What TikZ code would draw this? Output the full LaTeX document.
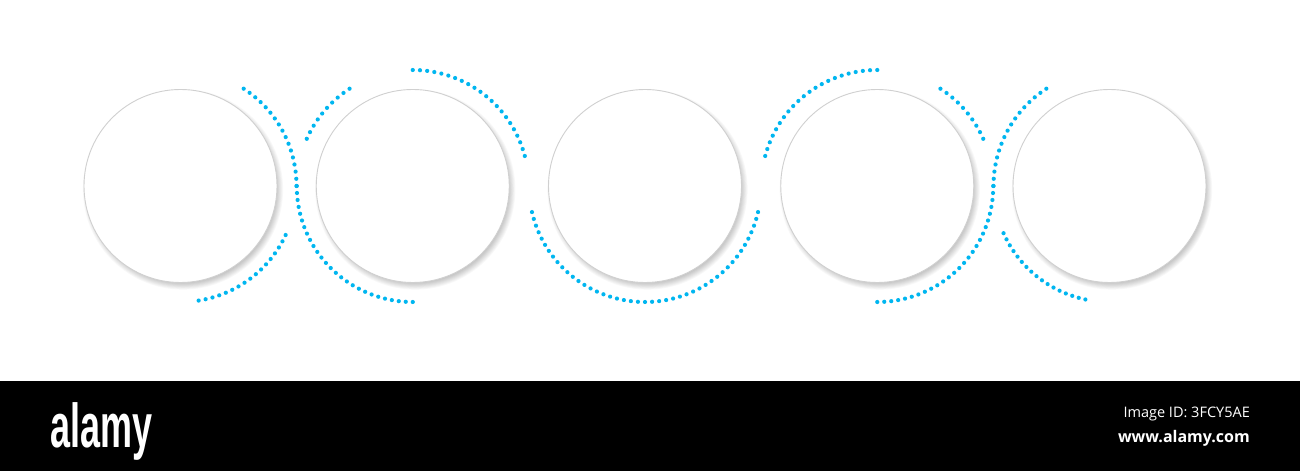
\documentclass[tikz,border=0pt]{standalone}
\usepackage{fontspec}
\setmainfont{Open Sans}
\newfontfamily\logofont{Liberation Sans}
\definecolor{dotblue}{RGB}{0,182,240}
\definecolor{ringgray}{RGB}{208,208,208}
% dotted arc: centre, start angle, end angle, number of intervals
\newcommand\mydotarc[4]{%
  \foreach \i in {0,...,#4}{%
    \pgfmathsetmacro\aa{#2+(#3-(#2))*\i/#4}%
    \fill[dotdisc] ($(#1)+(\aa:116)$) circle[radius=2.1];%
  }%
}
\usetikzlibrary{calc}
\begin{document}
\begin{tikzpicture}[x=1pt,y=1pt,
  ring/.style={circle,draw=ringgray,line width=0.9pt,fill=white,minimum size=193pt,inner sep=0pt},
  shadowdisc/.style={fill=black,opacity=0.028},
  dotdisc/.style={fill=dotblue}]
\useasboundingbox (0,0) rectangle (1300,471);
\fill[white] (0,0) rectangle (1300,471);
% centres
\coordinate (p1) at (180.5,285);
\coordinate (p2) at (412.75,285);
\coordinate (p3) at (645,285);
\coordinate (p4) at (877.25,285);
\coordinate (p5) at (1109.5,285);
% soft shadows
\foreach \p in {p1,p2,p3,p4,p5}{
  \foreach \k in {1,...,9}{
    \fill[shadowdisc] ([shift={(2.5,-3.5)}]\p) circle[radius=101-\k*0.9];
  }
}
% circles
\node[ring] (c1) at (p1) {};
\node[ring] (c2) at (p2) {};
\node[ring] (c3) at (p3) {};
\node[ring] (c4) at (p4) {};
\node[ring] (c5) at (p5) {};
% dotted arcs
\mydotarc{c1.center}{-25}{-81}{16}
\mydotarc{c1.center}{57}{0}{16}
\mydotarc{c2.center}{180}{270}{26}
\mydotarc{c2.center}{123}{156}{9}
\mydotarc{c2.center}{90}{15}{21}
\mydotarc{c3.center}{193}{347}{44}
\mydotarc{c4.center}{165}{90}{21}
\mydotarc{c4.center}{57}{24}{9}
\mydotarc{c5.center}{123}{180}{16}
\mydotarc{c4.center}{0}{-90}{26}
\mydotarc{c5.center}{204}{258}{16}
% band
\fill[black] (0,0) rectangle (1300,90);
\node[text=white,font=\logofont\bfseries\fontsize{62}{62}\selectfont,xscale=0.58,anchor=base west,inner sep=0pt] (logo) at (50,24) {alamy};
\node[text=white,font=\fontsize{14.5}{14.5}\selectfont,anchor=base east,inner sep=0pt] (imgid) at (1250,53) {Image ID: 3FCY5AE};
\node[text=white,font=\bfseries\fontsize{16}{16}\selectfont,anchor=base east,inner sep=0pt] (url) at (1250,29) {www.alamy.com};
\end{tikzpicture}
\end{document}
